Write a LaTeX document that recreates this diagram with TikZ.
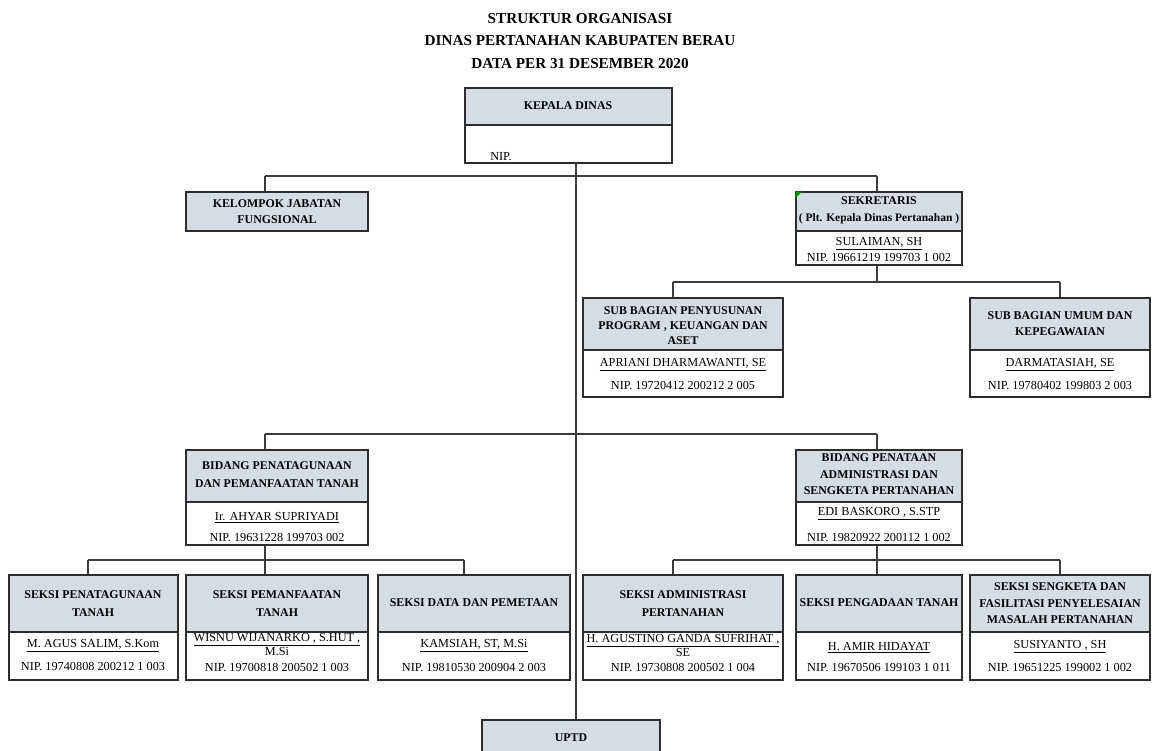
\documentclass[tikz,border=0pt]{standalone}
\usepackage{fontspec}
\setmainfont{Liberation Serif}
\usetikzlibrary{fit}
\definecolor{hdrfill}{RGB}{214,220,228}
\definecolor{boxline}{RGB}{45,45,45}
\definecolor{connline}{RGB}{60,60,60}
\newcommand{\myhdr}{\fontsize{8.9}{13}\selectfont\bfseries}
\newcommand{\mybody}{\fontsize{9.2}{11}\selectfont}
\newcommand{\mytitle}{\fontsize{11.4}{17}\selectfont\bfseries}
\begin{document}
\begin{tikzpicture}[x=0.75pt,y=-0.75pt,
  hdr/.style={draw=boxline, line width=1.1pt, fill=hdrfill, inner sep=0pt},
  low/.style={draw=boxline, line width=1.1pt, fill=white, inner sep=0pt},
  hlab/.style={inner sep=0pt, align=center, font=\myhdr},
  txt/.style={inner sep=0pt, font=\mybody, align=center},
  conn/.style={draw=connline, line width=1.1pt}]
\useasboundingbox (0,0) rectangle (1152,750);
\fill[white] (0,0) rectangle (1152,750);

% title
\node[inner sep=0pt, align=center, font=\mytitle] (title) at (580,41)
  {STRUKTUR ORGANISASI\\DINAS PERTANAHAN KABUPATEN BERAU\\DATA PER 31 DESEMBER 2020};

% Kepala Dinas
\node[hdr, fit={(465,88)(672,125)}] (kd) {};
\node[hlab] (kdt) at (568,106) {KEPALA DINAS};
\node[low, fit={(465,125)(672,163)}] (kdl) {};
\node[txt, anchor=west] (kdnip) at (490,157) {NIP.};

% Kelompok Jabatan Fungsional
\node[hdr, fit={(186,192)(368,231)}] (kjf) {};
\node[hlab, font=\fontsize{8.9}{12}\selectfont\bfseries] (kjft) at (277,212) {KELOMPOK JABATAN\\FUNGSIONAL};

% Sekretaris
\node[hdr, fit={(796,192)(962,231)}] (sek) {};
\node[hlab] (sekt) at (879,201) {SEKRETARIS};
\node[hlab, font=\fontsize{8.6}{10}\selectfont\bfseries] (sekt2) at (879,219) {( Plt. Kepala Dinas Pertanahan )};
\fill[green!55!black] (sek.north west) -- ++(7,0) -- ++(-7,7) -- cycle;
\node[low, fit={(796,231)(962,265)}] (sekl) {};
\node[txt] (sekn) at (879,244) {\underline{SULAIMAN, SH}};
\node[txt] (sekp) at (879,258) {NIP. 19661219 199703 1 002};

% Sub Bagian Penyusunan
\node[hdr, fit={(583,298)(783,350)}] (sbp) {};
\node[hlab, font=\fontsize{8.9}{11}\selectfont\bfseries] (sbpt) at (683,325.5) {SUB BAGIAN PENYUSUNAN\\PROGRAM , KEUANGAN DAN\\ASET};
\node[low, fit={(583,350)(783,397)}] (sbpl) {};
\node[txt] (sbpn) at (683,365) {\underline{APRIANI DHARMAWANTI, SE}};
\node[txt] (sbpp) at (683,386) {NIP. 19720412 200212 2 005};

% Sub Bagian Umum
\node[hdr, fit={(970,298)(1150,350)}] (sbu) {};
\node[hlab, font=\fontsize{8.9}{12}\selectfont\bfseries] (sbut) at (1060,324) {SUB BAGIAN UMUM DAN\\KEPEGAWAIAN};
\node[low, fit={(970,350)(1150,397)}] (sbul) {};
\node[txt] (sbun) at (1060,365) {\underline{DARMATASIAH, SE}};
\node[txt] (sbup) at (1060,386) {NIP. 19780402 199803 2 003};

% Bidang Penatagunaan
\node[hdr, fit={(186,450)(368,502)}] (bpp) {};
\node[hlab, font=\fontsize{8.9}{13.5}\selectfont\bfseries] (bppt) at (277,475) {BIDANG PENATAGUNAAN\\DAN PEMANFAATAN TANAH};
\node[low, fit={(186,502)(368,545)}] (bppl) {};
\node[txt] (bppn) at (277,518) {\underline{Ir. AHYAR SUPRIYADI}};
\node[txt] (bppp) at (277,537) {NIP. 19631228 199703 002};

% Bidang Penataan
\node[hdr, fit={(796,450)(962,502)}] (bpa) {};
\node[hlab, font=\fontsize{8.9}{12.4}\selectfont\bfseries] (bpat) at (879,474.5) {BIDANG PENATAAN\\ADMINISTRASI DAN\\SENGKETA PERTANAHAN};
\node[low, fit={(796,502)(962,545)}] (bpal) {};
\node[txt] (bpan) at (879,514) {\underline{EDI BASKORO , S.STP}};
\node[txt] (bpap) at (879,537) {NIP. 19820922 200112 1 002};

% Seksi row
\node[hdr, fit={(9,575)(178,632)}] (s1) {};
\node[hlab] (s1t) at (93,603.5) {SEKSI PENATAGUNAAN\\TANAH};
\node[low, fit={(9,632)(178,680)}] (s1l) {};
\node[txt] (s1n) at (93,646) {\underline{M. AGUS SALIM, S.Kom}};
\node[txt] (s1p) at (93,666) {NIP. 19740808 200212 1 003};

\node[hdr, fit={(186,575)(368,632)}] (s2) {};
\node[hlab] (s2t) at (277,603.5) {SEKSI PEMANFAATAN\\TANAH};
\node[low, fit={(186,632)(368,680)}] (s2l) {};
\node[txt] (s2n) at (277,640) {\underline{WISNU WIJANARKO , S.HUT ,}};
\node[txt] (s2n2) at (277,652) {M.Si};
\node[txt] (s2p) at (277,667) {NIP. 19700818 200502 1 003};

\node[hdr, fit={(378,575)(570,632)}] (s3) {};
\node[hlab] (s3t) at (474,603) {SEKSI DATA DAN PEMETAAN};
\node[low, fit={(378,632)(570,680)}] (s3l) {};
\node[txt] (s3n) at (474,646) {\underline{KAMSIAH, ST, M.Si}};
\node[txt] (s3p) at (474,667) {NIP. 19810530 200904 2 003};

\node[hdr, fit={(583,575)(783,632)}] (s4) {};
\node[hlab] (s4t) at (683,603.5) {SEKSI ADMINISTRASI\\PERTANAHAN};
\node[low, fit={(583,632)(783,680)}] (s4l) {};
\node[txt] (s4n) at (683,641) {\underline{H. AGUSTINO GANDA SUFRIHAT ,}};
\node[txt] (s4n2) at (683,652) {SE};
\node[txt] (s4p) at (683,667) {NIP. 19730808 200502 1 004};

\node[hdr, fit={(796,575)(962,632)}] (s5) {};
\node[hlab] (s5t) at (879,603) {SEKSI PENGADAAN TANAH};
\node[low, fit={(796,632)(962,680)}] (s5l) {};
\node[txt] (s5n) at (879,648) {\underline{H. AMIR HIDAYAT}};
\node[txt] (s5p) at (879,667) {NIP. 19670506 199103 1 011};

\node[hdr, fit={(970,575)(1150,632)}] (s6) {};
\node[hlab, font=\fontsize{8.9}{12.4}\selectfont\bfseries] (s6t) at (1060,603.5) {SEKSI SENGKETA DAN\\FASILITASI PENYELESAIAN\\MASALAH PERTANAHAN};
\node[low, fit={(970,632)(1150,680)}] (s6l) {};
\node[txt] (s6n) at (1060,647) {\underline{SUSIYANTO , SH}};
\node[txt] (s6p) at (1060,667) {NIP. 19651225 199002 1 002};

% UPTD
\node[hdr, fit={(482,720)(660,755)}] (uptd) {};
\node[hlab] (uptdt) at (571,738) {UPTD};

% connectors
\coordinate (mx) at (576,0);
\draw[conn] (kdl.south -| mx) -- (uptd.north -| mx);

\coordinate (a1) at (265,176); \coordinate (a2) at (877,176);
\draw[conn] (a1) -- (a2);
\draw[conn] (a1) -- (a1 |- kjf.north);
\draw[conn] (a2) -- (a2 |- sek.north);

\coordinate (b0) at (877,282); \coordinate (b1) at (673,282); \coordinate (b2) at (1060,282);
\draw[conn] (sekl.south -| b0) -- (b0);
\draw[conn] (b1) -- (b2);
\draw[conn] (b1) -- (b1 |- sbp.north);
\draw[conn] (b2) -- (b2 |- sbu.north);

\coordinate (c1) at (265,434); \coordinate (c2) at (877,434);
\draw[conn] (c1) -- (c2);
\draw[conn] (c1) -- (c1 |- bpp.north);
\draw[conn] (c2) -- (c2 |- bpa.north);

\coordinate (d0) at (265,560); \coordinate (d1) at (88,560); \coordinate (d2) at (464,560);
\draw[conn] (bppl.south -| d0) -- (d0);
\draw[conn] (d1) -- (d2);
\draw[conn] (d1) -- (d1 |- s1.north);
\draw[conn] (d0) -- (d0 |- s2.north);
\draw[conn] (d2) -- (d2 |- s3.north);

\coordinate (e0) at (877,560); \coordinate (e1) at (673,560); \coordinate (e2) at (1060,560);
\draw[conn] (bpal.south -| e0) -- (e0);
\draw[conn] (e1) -- (e2);
\draw[conn] (e1) -- (e1 |- s4.north);
\draw[conn] (e0) -- (e0 |- s5.north);
\draw[conn] (e2) -- (e2 |- s6.north);
\end{tikzpicture}
\end{document}
